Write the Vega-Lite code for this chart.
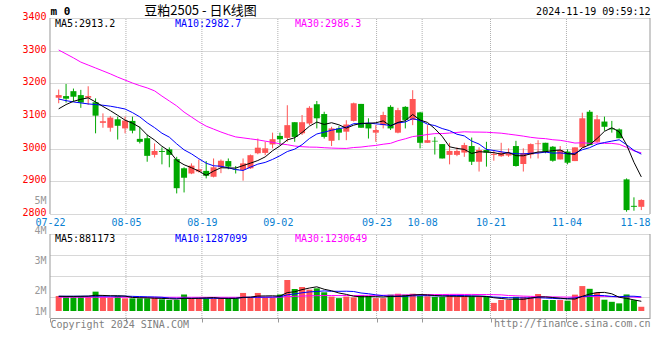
{
"$schema":"https://vega.github.io/schema/vega-lite/v6.json",
"width":600,"height":300,"autosize":"none",
"padding":{"left":50,"top":18,"right":10,"bottom":42},
"background":"#ffffff",
"config":{"view":{"stroke":null},"font":"DejaVu Sans Mono",
 "axis":{"labelFont":"DejaVu Sans Mono","labelFontSize":10,"titleFont":"DejaVu Sans Mono","titleFontSize":10,"titleFontWeight":"normal","labelOverlap":false},
 "legend":{"labelFont":"DejaVu Sans Mono","labelFontSize":10}},
"data":{"values":[
{"i":0,"o":3156,"h":3181,"l":3139,"c":3164,"v":1360000,"m5":3122,"m10":3152,"m30":3302,"v5":1340000,"v10":1340000,"v30":1250000},
{"i":1,"o":3161,"h":3198,"l":3141,"c":3153,"v":1360000,"m5":3135,"m10":3147,"m30":3290,"v5":1330000,"v10":1340000,"v30":1250000},
{"i":2,"o":3176,"h":3184,"l":3144,"c":3159,"v":1360000,"m5":3145,"m10":3143,"m30":3278,"v5":1330000,"v10":1340000,"v30":1250000},
{"i":3,"o":3164,"h":3180,"l":3125,"c":3141,"v":1360000,"m5":3151,"m10":3140,"m30":3265,"v5":1340000,"v10":1340000,"v30":1250000},
{"i":4,"o":3156,"h":3191,"l":3134,"c":3161,"v":1300000,"m5":3155.6,"m10":3137,"m30":3256,"v5":1348000,"v10":1350000,"v30":1250000},
{"i":5,"o":3142,"h":3154,"l":3047,"c":3101,"v":1760000,"m5":3143.0,"m10":3135,"m30":3247,"v5":1428000,"v10":1350000,"v30":1250000},
{"i":6,"o":3079,"h":3108,"l":3064,"c":3084,"v":1300000,"m5":3129.2,"m10":3133,"m30":3238,"v5":1416000,"v10":1350000,"v30":1250000},
{"i":7,"o":3064,"h":3100,"l":3052,"c":3095,"v":1210000,"m5":3116.4,"m10":3130,"m30":3229,"v5":1386000,"v10":1350000,"v30":1250000},
{"i":8,"o":3090,"h":3098,"l":3028,"c":3070,"v":1360000,"m5":3102.2,"m10":3126,"m30":3219,"v5":1386000,"v10":1350000,"v30":1250000},
{"i":9,"o":3062,"h":3098,"l":3047,"c":3086,"v":1150000,"m5":3087.2,"m10":3121.4,"m30":3210,"v5":1356000,"v10":1352000,"v30":1250000},
{"i":10,"o":3085,"h":3098,"l":3047,"c":3055,"v":1150000,"m5":3078.0,"m10":3110.5,"m30":3201,"v5":1234000,"v10":1331000,"v30":1250000},
{"i":11,"o":3030,"h":3067,"l":3016,"c":3021,"v":1150000,"m5":3065.4,"m10":3097.3,"m30":3193,"v5":1204000,"v10":1310000,"v30":1250000},
{"i":12,"o":3032,"h":3042,"l":2960,"c":2978,"v":1150000,"m5":3042.0,"m10":3079.2,"m30":3186,"v5":1192000,"v10":1289000,"v30":1250000},
{"i":13,"o":2981,"h":3016,"l":2973,"c":2993,"v":1210000,"m5":3026.6,"m10":3064.4,"m30":3177,"v5":1162000,"v10":1274000,"v30":1250000},
{"i":14,"o":2993,"h":3004,"l":2952,"c":2990,"v":1060000,"m5":3007.4,"m10":3047.3,"m30":3161,"v5":1144000,"v10":1250000,"v30":1250000},
{"i":15,"o":2998,"h":3004,"l":2943,"c":2981,"v":1000000,"m5":2992.6,"m10":3035.3,"m30":3146,"v5":1114000,"v10":1174000,"v30":1250000},
{"i":16,"o":2968,"h":2975,"l":2863,"c":2879,"v":1000000,"m5":2964.2,"m10":3014.8,"m30":3131,"v5":1084000,"v10":1144000,"v30":1250000},
{"i":17,"o":2940,"h":2943,"l":2866,"c":2911,"v":1500000,"m5":2950.8,"m10":2996.4,"m30":3112,"v5":1154000,"v10":1173000,"v30":1250000},
{"i":18,"o":2924,"h":2955,"l":2922,"c":2948,"v":1150000,"m5":2941.8,"m10":2984.2,"m30":3097,"v5":1142000,"v10":1152000,"v30":1250000},
{"i":19,"o":2930,"h":2967,"l":2927,"c":2937,"v":1150000,"m5":2931.2,"m10":2969.3,"m30":3082,"v5":1160000,"v10":1152000,"v30":1250000},
{"i":20,"o":2932,"h":2962,"l":2909,"c":2917,"v":1150000,"m5":2918.4,"m10":2955.5,"m30":3069,"v5":1190000,"v10":1152000,"v30":1250000},
{"i":21,"o":2914,"h":2970,"l":2912,"c":2943,"v":1150000,"m5":2931.2,"m10":2947.7,"m30":3060,"v5":1220000,"v10":1152000,"v30":1250000},
{"i":22,"o":2943,"h":2967,"l":2925,"c":2963,"v":1150000,"m5":2941.6,"m10":2946.2,"m30":3051,"v5":1150000,"v10":1152000,"v30":1250000},
{"i":23,"o":2962,"h":2970,"l":2937,"c":2945,"v":1150000,"m5":2941.0,"m10":2941.4,"m30":3043,"v5":1150000,"v10":1146000,"v30":1250000},
{"i":24,"o":2937,"h":2947,"l":2924,"c":2935,"v":1150000,"m5":2940.6,"m10":2935.9,"m30":3036,"v5":1150000,"v10":1155000,"v30":1250000},
{"i":25,"o":2935,"h":2970,"l":2902,"c":2955,"v":1640000,"m5":2948.2,"m10":2933.3,"m30":3033,"v5":1248000,"v10":1219000,"v30":1250000},
{"i":26,"o":2940,"h":2982,"l":2938,"c":2980,"v":1210000,"m5":2955.6,"m10":2943.4,"m30":3030,"v5":1260000,"v10":1240000,"v30":1252000},
{"i":27,"o":2986,"h":3031,"l":2983,"c":3003,"v":1640000,"m5":2963.6,"m10":2952.6,"m30":3027,"v5":1358000,"v10":1254000,"v30":1254000},
{"i":28,"o":2987,"h":3021,"l":2980,"c":3001,"v":1210000,"m5":2974.8,"m10":2957.9,"m30":3023,"v5":1370000,"v10":1260000,"v30":1255000},
{"i":29,"o":3013,"h":3049,"l":3001,"c":3029,"v":1210000,"m5":2993.6,"m10":2967.1,"m30":3019.3,"v5":1382000,"v10":1266000,"v30":1257000},
{"i":30,"o":3039,"h":3049,"l":3011,"c":3029,"v":1500000,"m5":3008.4,"m10":2978.3,"m30":3014.8,"v5":1354000,"v10":1301000,"v30":1261000},
{"i":31,"o":3033,"h":3133,"l":3021,"c":3072,"v":2820000,"m5":3026.8,"m10":2991.2,"m30":3012.1,"v5":1676000,"v10":1468000,"v30":1310000},
{"i":32,"o":3081,"h":3081,"l":3021,"c":3036,"v":2000000,"m5":3033.4,"m10":2998.5,"m30":3008.0,"v5":1748000,"v10":1553000,"v30":1331000},
{"i":33,"o":3047,"h":3103,"l":3042,"c":3081,"v":2180000,"m5":3049.4,"m10":3012.1,"m30":3006.0,"v5":1942000,"v10":1656000,"v30":1359000},
{"i":34,"o":3077,"h":3130,"l":3072,"c":3125,"v":1940000,"m5":3068.6,"m10":3031.1,"m30":3004.8,"v5":2088000,"v10":1735000,"v30":1380000},
{"i":35,"o":3136,"h":3146,"l":3062,"c":3093,"v":2060000,"m5":3081.4,"m10":3044.9,"m30":3004.5,"v5":2200000,"v10":1777000,"v30":1390000},
{"i":36,"o":3106,"h":3113,"l":3031,"c":3036,"v":1700000,"m5":3074.2,"m10":3050.5,"m30":3002.9,"v5":1976000,"v10":1826000,"v30":1403000},
{"i":37,"o":3024,"h":3067,"l":3008,"c":3062,"v":1310000,"m5":3079.4,"m10":3056.4,"m30":3001.8,"v5":1838000,"v10":1793000,"v30":1407000},
{"i":38,"o":3062,"h":3069,"l":3026,"c":3049,"v":1170000,"m5":3073.0,"m10":3061.2,"m30":3001.1,"v5":1636000,"v10":1789000,"v30":1400000},
{"i":39,"o":3052,"h":3087,"l":3026,"c":3074,"v":1310000,"m5":3062.8,"m10":3065.7,"m30":3000.7,"v5":1510000,"v10":1799000,"v30":1406000},
{"i":40,"o":3085,"h":3141,"l":3083,"c":3139,"v":1230000,"m5":3072.0,"m10":3076.7,"m30":3003.5,"v5":1344000,"v10":1772000,"v30":1408000},
{"i":41,"o":3137,"h":3137,"l":3064,"c":3064,"v":1450000,"m5":3077.6,"m10":3075.9,"m30":3004.9,"v5":1294000,"v10":1635000,"v30":1418000},
{"i":42,"o":3077,"h":3093,"l":3031,"c":3062,"v":1360000,"m5":3077.6,"m10":3078.5,"m30":3007.7,"v5":1304000,"v10":1571000,"v30":1425000},
{"i":43,"o":3049,"h":3072,"l":3021,"c":3057,"v":1170000,"m5":3079.2,"m10":3076.1,"m30":3009.9,"v5":1304000,"v10":1470000,"v30":1424000},
{"i":44,"o":3072,"h":3113,"l":3062,"c":3103,"v":1170000,"m5":3085.0,"m10":3073.9,"m30":3013.6,"v5":1276000,"v10":1393000,"v30":1428000},
{"i":45,"o":3128,"h":3133,"l":3057,"c":3062,"v":1480000,"m5":3069.6,"m10":3070.8,"m30":3016.3,"v5":1326000,"v10":1335000,"v30":1444000},
{"i":46,"o":3049,"h":3125,"l":3047,"c":3118,"v":1570000,"m5":3080.4,"m10":3079.0,"m30":3024.3,"v5":1350000,"v10":1322000,"v30":1463000},
{"i":47,"o":3128,"h":3130,"l":3062,"c":3088,"v":1480000,"m5":3085.6,"m10":3081.6,"m30":3030.2,"v5":1374000,"v10":1339000,"v30":1462000},
{"i":48,"o":3088,"h":3179,"l":3072,"c":3152,"v":1570000,"m5":3104.6,"m10":3091.9,"m30":3037.0,"v5":1454000,"v10":1379000,"v30":1476000},
{"i":49,"o":3111,"h":3113,"l":3001,"c":3018,"v":1360000,"m5":3087.6,"m10":3086.3,"m30":3039.7,"v5":1492000,"v10":1384000,"v30":1483000},
{"i":50,"o":3018,"h":3072,"l":3018,"c":3026,"v":1338000,"m5":3080.4,"m10":3075.0,"m30":3043.3,"v5":1464000,"v10":1395000,"v30":1489000},
{"i":51,"o":3024,"h":3036,"l":2982,"c":3022,"v":1288000,"m5":3061.2,"m10":3070.8,"m30":3046.0,"v5":1407000,"v10":1379000,"v30":1494000},
{"i":52,"o":3014,"h":3014,"l":2970,"c":2970,"v":1288000,"m5":3037.6,"m10":3061.6,"m30":3046.2,"v5":1369000,"v10":1371000,"v30":1498000},
{"i":53,"o":2981,"h":3018,"l":2952,"c":2993,"v":1458000,"m5":3005.8,"m10":3055.2,"m30":3047.8,"v5":1346000,"v10":1400000,"v30":1509000},
{"i":54,"o":2981,"h":3004,"l":2977,"c":2993,"v":1288000,"m5":3000.8,"m10":3044.2,"m30":3049.7,"v5":1332000,"v10":1412000,"v30":1513000},
{"i":55,"o":2988,"h":3018,"l":2975,"c":3011,"v":1338000,"m5":2997.8,"m10":3039.1,"m30":3051.6,"v5":1332000,"v10":1398000,"v30":1503000},
{"i":56,"o":3008,"h":3034,"l":2950,"c":2960,"v":1338000,"m5":2985.4,"m10":3023.3,"m30":3050.9,"v5":1342000,"v10":1375000,"v30":1508000},
{"i":57,"o":2960,"h":3004,"l":2930,"c":2996,"v":1288000,"m5":2990.6,"m10":3014.1,"m30":3050.7,"v5":1342000,"v10":1355000,"v30":1496000},
{"i":58,"o":2996,"h":3021,"l":2945,"c":2988,"v":1338000,"m5":2989.6,"m10":2997.7,"m30":3050.3,"v5":1318000,"v10":1332000,"v30":1500000},
{"i":59,"o":2981,"h":2996,"l":2963,"c":2984,"v":738000,"m5":2987.8,"m10":2994.3,"m30":3048.8,"v5":1208000,"v10":1270000,"v30":1484000},
{"i":60,"o":2977,"h":3018,"l":2975,"c":2988,"v":998000,"m5":2983.2,"m10":2990.5,"m30":3047.4,"v5":1140000,"v10":1236000,"v30":1468000},
{"i":61,"o":2979,"h":3001,"l":2975,"c":2986,"v":998000,"m5":2988.4,"m10":2986.9,"m30":3044.5,"v5":1072000,"v10":1207000,"v30":1407000},
{"i":62,"o":3008,"h":3024,"l":2945,"c":2947,"v":1288000,"m5":2978.6,"m10":2984.6,"m30":3041.6,"v5":1072000,"v10":1207000,"v30":1383000},
{"i":63,"o":2953,"h":3001,"l":2930,"c":2986,"v":1288000,"m5":2978.2,"m10":2983.9,"m30":3038.4,"v5":1062000,"v10":1190000,"v30":1353000},
{"i":64,"o":2982,"h":3016,"l":2970,"c":3014,"v":1288000,"m5":2984.2,"m10":2986.0,"m30":3034.7,"v5":1172000,"v10":1190000,"v30":1332000},
{"i":65,"o":3014,"h":3026,"l":2970,"c":3016,"v":1548000,"m5":2989.8,"m10":2986.5,"m30":3032.1,"v5":1282000,"v10":1211000,"v30":1315000},
{"i":66,"o":3018,"h":3018,"l":2986,"c":2991,"v":998000,"m5":2990.8,"m10":2989.6,"m30":3030.6,"v5":1282000,"v10":1177000,"v30":1291000},
{"i":67,"o":3006,"h":3008,"l":2960,"c":2963,"v":998000,"m5":2994.0,"m10":2986.3,"m30":3027.3,"v5":1224000,"v10":1148000,"v30":1281000},
{"i":68,"o":2967,"h":3008,"l":2967,"c":2996,"v":998000,"m5":2996.0,"m10":2987.1,"m30":3025.6,"v5":1166000,"v10":1114000,"v30":1275000},
{"i":69,"o":2991,"h":2998,"l":2952,"c":2957,"v":938000,"m5":2984.6,"m10":2984.4,"m30":3021.7,"v5":1096000,"v10":1134000,"v30":1263000},
{"i":70,"o":2962,"h":3004,"l":2962,"c":3004,"v":1487000,"m5":2982.2,"m10":2986.0,"m30":3017.2,"v5":1084000,"v10":1183000,"v30":1271000},
{"i":71,"o":3004,"h":3110,"l":3004,"c":3093,"v":2267000,"m5":3002.6,"m10":2996.7,"m30":3018.1,"v5":1338000,"v10":1310000,"v30":1298000},
{"i":72,"o":3113,"h":3118,"l":3011,"c":3011,"v":2017000,"m5":3012.2,"m10":3003.1,"m30":3016.4,"v5":1541000,"v10":1383000,"v30":1320000},
{"i":73,"o":3021,"h":3103,"l":3018,"c":3090,"v":1667000,"m5":3031.0,"m10":3013.5,"m30":3017.5,"v5":1675000,"v10":1421000,"v30":1337000},
{"i":74,"o":3083,"h":3098,"l":3055,"c":3067,"v":1027000,"m5":3053.0,"m10":3018.8,"m30":3016.3,"v5":1693000,"v10":1395000,"v30":1332000},
{"i":75,"o":3062,"h":3085,"l":3049,"c":3059,"v":835000,"m5":3064.0,"m10":3023.1,"m30":3016.2,"v5":1563000,"v10":1323000,"v30":1311000},
{"i":76,"o":3059,"h":3062,"l":3032,"c":3032,"v":695000,"m5":3051.8,"m10":3027.2,"m30":3013.4,"v5":1248000,"v10":1293000,"v30":1282000},
{"i":77,"o":2906,"h":2909,"l":2807,"c":2812,"v":1505000,"m5":3012.0,"m10":3012.1,"m30":3004.2,"v5":1146000,"v10":1344000,"v30":1282000},
{"i":78,"o":2825,"h":2851,"l":2810,"c":2822,"v":985000,"m5":2958.4,"m10":2994.7,"m30":2993.2,"v5":1009000,"v10":1342000,"v30":1263000},
{"i":79,"o":2822,"h":2845,"l":2812,"c":2843,"v":385000,"m5":2913.6,"m10":2983.3,"m30":2987.3,"v5":881173,"v10":1287099,"v30":1230649}
]},
"layer":[
 {"layer":[
   {"layer":[
     {"data":{"values":[{"i":10},{"i":20},{"i":30},{"i":43},{"i":49},{"i":58},{"i":68}]},
      "mark":{"type":"rule","color":"#b0b0b0","strokeDash":[1,1],"strokeWidth":1},
      "encoding":{
        "x":{"field":"i","type":"quantitative","scale":{"domain":[-2,79],"range":[-15.19,600],"nice":false,"zero":false},
             "axis":{"orient":"bottom","offset":-103,"values":[0,10,20,30,43,49,58,68,78],
               "labelExpr":"datum.value==0?'07-22':datum.value==10?'08-05':datum.value==20?'08-19':datum.value==30?'09-02':datum.value==43?'09-23':datum.value==49?'10-08':datum.value==58?'10-21':datum.value==68?'11-04':'11-18'",
               "labelColor":"#0a7fd2","labelFlush":8,"labelFlushOffset":7.6,"ticks":false,"domain":false,"grid":false,"labelPadding":2,
               "title":"http://finance.sina.com.cn","titleX":600,"titleY":108,"titleAlign":"right","titleBaseline":"middle","titleColor":"#808080"}},
        "y":{"datum":2800,"type":"quantitative","scale":{"domain":[2800,3400],"range":[196,0],"nice":false,"zero":false},
             "axis":{"orient":"right","labels":false,"ticks":false,"domain":false,"grid":false,"title":"2024-11-19 09:59:12","titleAngle":0,"titleAlign":"right","titleBaseline":"middle","titleX":0,"titleY":-6.5,"titleColor":"#000000"}},
        "y2":{"datum":3400}}},
     {"data":{"values":[{"i":0},{"i":79}]},
      "mark":{"type":"rule","color":"#999999","strokeWidth":1},
      "encoding":{
        "x":{"field":"i","type":"quantitative","scale":{"domain":[-2,79],"range":[-15.19,600],"nice":false,"zero":false}},
        "y":{"datum":2800,"type":"quantitative","scale":{"domain":[2800,3400],"range":[196,0],"nice":false,"zero":false}},
        "y2":{"datum":3400}}}
   ]},
   {"layer":[
     {"data":{"values":[{"i":10},{"i":20},{"i":30},{"i":43},{"i":49},{"i":58},{"i":68}]},
      "mark":{"type":"rule","color":"#b0b0b0","strokeDash":[1,1],"strokeWidth":1},
      "encoding":{
        "x":{"field":"i","type":"quantitative","scale":{"domain":[0,79],"nice":false,"zero":false},
             "axis":{"orient":"bottom","values":[0,10,20,30,43,49,58,68],"labels":false,"ticks":true,"tickSize":4,"tickColor":"#999999","domain":true,"domainColor":"#999999","grid":false,
               "title":"Copyright 2024 SINA.COM","titleX":0,"titleY":6,"titleAlign":"left","titleBaseline":"middle","titleColor":"#808080"}},
        "y":{"datum":-636364,"type":"quantitative","scale":{"domain":[-636364,26636364],"range":[300,0],"nice":false,"zero":false},
             "axis":{"orient":"left","values":[0,1836364,4609091,7290909,10090909],
               "labelExpr":"datum.value<1000000?'1M':datum.value<3000000?'2M':datum.value<6000000?'3M':datum.value<9000000?'4M':'5M'",
               "labelColor":"#999999","labelPadding":4,"ticks":false,"domain":false,"grid":false,"title":null}},
        "y2":{"datum":7000000}}},
     {"data":{"values":[{"i":0},{"i":79}]},
      "mark":{"type":"rule","color":"#999999","strokeWidth":1},
      "encoding":{
        "x":{"field":"i","type":"quantitative","scale":{"domain":[0,79],"nice":false,"zero":false}},
        "y":{"datum":-636364,"type":"quantitative","scale":{"domain":[-636364,26636364],"range":[300,0],"nice":false,"zero":false}},
        "y2":{"datum":7000000}}}
   ]}
  ],
  "resolve":{"scale":{"x":"independent","y":"independent"},"axis":{"x":"independent","y":"independent"}}},
 {"layer":[
   {"mark":{"type":"rule","strokeWidth":1},
    "encoding":{
      "x":{"field":"i","type":"quantitative","scale":{"domain":[-0.5,79.5],"nice":false,"zero":false},"axis":null},
      "y":{"field":"l","type":"quantitative","scale":{"domain":[2800,3400],"range":[196,0],"nice":false,"zero":false},
           "axis":{"orient":"left","values":[2800,2900,3000,3100,3200,3300,3400],"format":"d","labelColor":"#ff0000","labelPadding":4,"labelOffset":-1.5,"ticks":false,"domain":false,
             "grid":true,"gridColor":"#b0b0b0","gridDash":[1,1],
             "title":"m 0","titleAngle":0,"titleX":0,"titleY":-6.5,"titleAlign":"left","titleBaseline":"middle","titleFontWeight":"bold","titleColor":"#000000","titleFontSize":11}},
      "y2":{"field":"h"},
      "color":{"condition":{"test":"datum.c > datum.o","value":"#ff5555"},"value":"#00a800"}}},
   {"mark":{"type":"bar","width":6},
    "encoding":{
      "x":{"field":"i","type":"quantitative","scale":{"domain":[-0.5,79.5],"nice":false,"zero":false},"axis":null},
      "y":{"field":"o","type":"quantitative","scale":{"domain":[2800,3400],"range":[196,0],"nice":false,"zero":false},
           "axis":{"orient":"left","labels":false,"ticks":false,"domain":false,"grid":false,
             "title":"豆粕2505  -  日K线图","titleAngle":0,"titleX":150,"titleY":-7.5,"titleAlign":"center","titleBaseline":"middle","titleFont":"Noto Sans CJK SC","titleFontSize":13,"titleColor":"#000000"}},
      "y2":{"field":"c"},
      "color":{"condition":{"test":"datum.c > datum.o","value":"#ff5555"},"value":"#00a800"}}},
   {"mark":{"type":"line","strokeWidth":1},
    "encoding":{
      "x":{"field":"i","type":"quantitative","scale":{"domain":[-0.5,79.5],"nice":false,"zero":false},"axis":null},
      "y":{"field":"m30","type":"quantitative","scale":{"domain":[2800,3400],"range":[196,0],"nice":false,"zero":false},"axis":null},
      "color":{"datum":"MA30:2986.3","type":"nominal","scale":{"range":["#ff00ff"]},
        "legend":{"orient":"none","legendX":235,"legendY":1,"title":null,"symbolOpacity":0,"symbolSize":0,"symbolStrokeWidth":0,"labelOffset":0,"labelColor":"#ff00ff","padding":0}}}},
   {"mark":{"type":"line","strokeWidth":1},
    "encoding":{
      "x":{"field":"i","type":"quantitative","scale":{"domain":[-0.5,79.5],"nice":false,"zero":false},"axis":null},
      "y":{"field":"m10","type":"quantitative","scale":{"domain":[2800,3400],"range":[196,0],"nice":false,"zero":false},"axis":null},
      "color":{"datum":"MA10:2982.7","type":"nominal","scale":{"range":["#0000ff"]},
        "legend":{"orient":"none","legendX":115,"legendY":1,"title":null,"symbolOpacity":0,"symbolSize":0,"symbolStrokeWidth":0,"labelOffset":0,"labelColor":"#0000ff","padding":0}}}},
   {"mark":{"type":"line","strokeWidth":1},
    "encoding":{
      "x":{"field":"i","type":"quantitative","scale":{"domain":[-0.5,79.5],"nice":false,"zero":false},"axis":null},
      "y":{"field":"m5","type":"quantitative","scale":{"domain":[2800,3400],"range":[196,0],"nice":false,"zero":false},"axis":null},
      "color":{"datum":"MA5:2913.2","type":"nominal","scale":{"range":["#000000"]},
        "legend":{"orient":"none","legendX":-5,"legendY":1,"title":null,"symbolOpacity":0,"symbolSize":0,"symbolStrokeWidth":0,"labelOffset":0,"labelColor":"#000000","padding":0}}}}
  ],
  "resolve":{"axis":{"y":"independent"},"scale":{"color":"independent"}}},
 {"layer":[
   {"mark":{"type":"bar","width":6},
    "encoding":{
      "x":{"field":"i","type":"quantitative","scale":{"domain":[-0.5,79.5],"nice":false,"zero":false},"axis":null},
      "y":{"field":"v","type":"quantitative","scale":{"domain":[-636364,7000000],"range":[300,216],"nice":false,"zero":false},
           "axis":{"orient":"left","values":[1272727,3181818,5090909,7000000],"labels":false,"ticks":false,"domain":false,"grid":true,"gridColor":"#b0b0b0","gridDash":[1,1],"title":null}},
      "y2":{"datum":0},
      "color":{"condition":{"test":"datum.c > datum.o","value":"#ff5555"},"value":"#00a800"}}},
   {"mark":{"type":"line","strokeWidth":1},
    "encoding":{
      "x":{"field":"i","type":"quantitative","scale":{"domain":[-0.5,79.5],"nice":false,"zero":false},"axis":null},
      "y":{"field":"v30","type":"quantitative","scale":{"domain":[-636364,7000000],"range":[300,216],"nice":false,"zero":false},"axis":null},
      "color":{"datum":"MA30:1230649","type":"nominal","scale":{"range":["#ff00ff"]},
        "legend":{"orient":"none","legendX":235,"legendY":216,"title":null,"symbolOpacity":0,"symbolSize":0,"symbolStrokeWidth":0,"labelOffset":0,"labelColor":"#ff00ff","padding":0}}}},
   {"mark":{"type":"line","strokeWidth":1},
    "encoding":{
      "x":{"field":"i","type":"quantitative","scale":{"domain":[-0.5,79.5],"nice":false,"zero":false},"axis":null},
      "y":{"field":"v10","type":"quantitative","scale":{"domain":[-636364,7000000],"range":[300,216],"nice":false,"zero":false},"axis":null},
      "color":{"datum":"MA10:1287099","type":"nominal","scale":{"range":["#0000ff"]},
        "legend":{"orient":"none","legendX":115,"legendY":216,"title":null,"symbolOpacity":0,"symbolSize":0,"symbolStrokeWidth":0,"labelOffset":0,"labelColor":"#0000ff","padding":0}}}},
   {"mark":{"type":"line","strokeWidth":1},
    "encoding":{
      "x":{"field":"i","type":"quantitative","scale":{"domain":[-0.5,79.5],"nice":false,"zero":false},"axis":null},
      "y":{"field":"v5","type":"quantitative","scale":{"domain":[-636364,7000000],"range":[300,216],"nice":false,"zero":false},"axis":null},
      "color":{"datum":"MA5:881173","type":"nominal","scale":{"range":["#000000"]},
        "legend":{"orient":"none","legendX":-5,"legendY":216,"title":null,"symbolOpacity":0,"symbolSize":0,"symbolStrokeWidth":0,"labelOffset":0,"labelColor":"#000000","padding":0}}}}
  ],
  "resolve":{"axis":{"y":"independent"},"scale":{"color":"independent"}}}
],
"resolve":{"scale":{"x":"independent","y":"independent","color":"independent"},"axis":{"x":"independent","y":"independent"}}
}
